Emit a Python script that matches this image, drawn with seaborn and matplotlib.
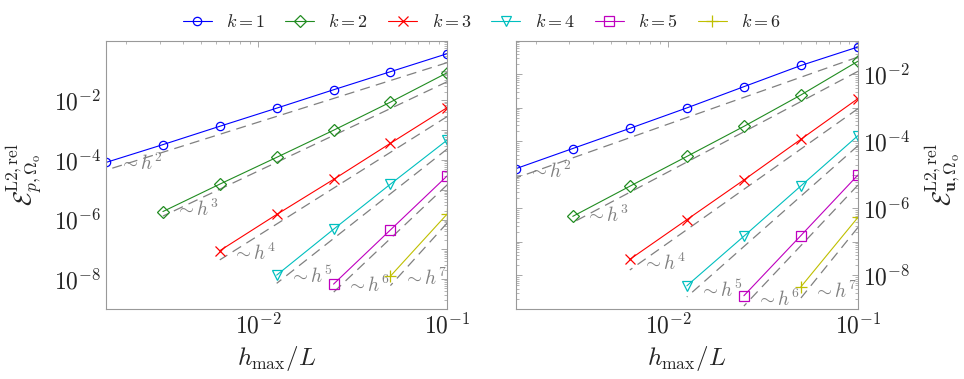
import numpy as np
import pandas as pd
import seaborn as sns
import matplotlib
matplotlib.use('Agg')
from matplotlib import pyplot as plt
from matplotlib.ticker import LogLocator, FuncFormatter, NullFormatter

# mesh sizes h_max/L
h = [0.1, 0.05, 0.025, 0.0125, 0.00625, 0.003125, 0.0015625]
degrees = [1, 2, 3, 4, 5, 6]

# pressure error (coarse -> fine)
p_k1 = [0.374, 0.0925, 0.0229, 0.00552, 0.00136, 3.29e-4, 8.3e-5]
p_k2 = [0.0857, 8.8e-3, 1.0e-3, 1.23e-4, 1.55e-5, 1.86e-6]
p_k3 = [5.8e-3, 3.65e-4, 2.23e-5, 1.48e-6, 9.0e-8]
p_k4 = [4.72e-4, 1.55e-5, 4.72e-7, 1.36e-8]
p_k5 = [2.96e-5, 4.49e-7, 6.78e-9]
p_k6 = [1.55e-6, 1.26e-8]

# velocity error, right panel
u_k1 = [0.0661, 0.0185, 4.31e-3, 1.0e-3, 2.45e-4, 6.14e-5, 1.53e-5]
u_k2 = [0.0248, 2.44e-3, 2.81e-4, 3.56e-5, 4.59e-6, 5.79e-7]
u_k3 = [1.90e-3, 1.16e-4, 7.06e-6, 4.61e-7, 3.01e-8]
u_k4 = [1.49e-4, 4.70e-6, 1.48e-7, 4.89e-9]
u_k5 = [9.95e-6, 1.55e-7, 2.47e-9]
u_k6 = [5.41e-7, 4.56e-9]

colors = ['#0000ff', '#218c21', '#ff0000', '#00bfbf', '#bf00bf', '#bfbf00']
markers = ['o', 'D', 'x', 'v', 's', '+']
msizes = [6, 6, 7, 6.5, 6.5, 8]
ref_scale = 0.5   # reference lines sit a factor below the coarsest point


def to_frame(series):
    rows = []
    for k, err in zip(degrees, series):
        for hh, e in zip(h, err):
            rows.append({'h': hh, 'err': e, 'k': k})
    return pd.DataFrame(rows)


def decade(v):
    return int(round(np.log10(v)))


def draw(ax, df, ylim, ylab, side='left'):
    for k, c, m, ms in zip(degrees, colors, markers, msizes):
        sub = df[df['k'] == k]
        sns.lineplot(data=sub, x='h', y='err', ax=ax, color=c, marker=m,
                     markersize=ms, markerfacecolor='none', markeredgecolor=c,
                     markeredgewidth=0.9, linewidth=0.8, label=f'$k = {k}$',
                     legend=False)

        # reference slope h^(k+1)
        hs = sub['h'].to_numpy()
        ref = ref_scale * sub['err'].iloc[0] * (hs / hs[0]) ** (k + 1)
        ax.plot(hs, ref, color='#808080', lw=0.9, dashes=(8, 5), zorder=1)
        ax.annotate(rf'$\sim h^{k + 1}$', xy=(hs[-1], ref[-1]),
                    xytext=(9, 5), textcoords='offset points',
                    ha='left', va='center', color='#808080', fontsize=14)

    ax.set_xscale('log')
    ax.set_yscale('log')
    ax.set_xlim(h[-1], h[0])
    ax.set_ylim(*ylim)

    ax.xaxis.set_major_locator(LogLocator(base=10, numticks=10))
    ax.yaxis.set_major_locator(LogLocator(base=10, numticks=20))
    ax.xaxis.set_minor_locator(LogLocator(base=10, subs=np.arange(2, 10), numticks=20))
    ax.yaxis.set_minor_locator(LogLocator(base=10, subs=np.arange(2, 10), numticks=20))
    ax.xaxis.set_major_formatter(FuncFormatter(lambda v, p: rf'$10^{{{decade(v)}}}$'))
    ax.yaxis.set_major_formatter(FuncFormatter(
        lambda v, p: rf'$10^{{{decade(v)}}}$' if decade(v) % 2 == 0 and decade(v) < 0 else ''))
    ax.xaxis.set_minor_formatter(NullFormatter())
    ax.yaxis.set_minor_formatter(NullFormatter())

    ax.tick_params(which='both', direction='in', top=True, right=True,
                   color='#999999', labelsize=17)
    ax.tick_params(which='major', length=4, width=0.6)
    ax.tick_params(which='minor', length=2, width=0.5)
    if side == 'right':
        ax.yaxis.tick_right()
        ax.tick_params(which='both', left=True, labelleft=False, labelright=True)
        ax.yaxis.set_label_position('right')
    for s in ax.spines.values():
        s.set_color('#999999')
        s.set_linewidth(0.8)

    ax.set_xlabel(r'$h_\mathrm{max}/L$', fontsize=18, labelpad=4)
    ax.set_ylabel(ylab, fontsize=18, labelpad=6 if side == 'left' else 10)


sns.set_style('white')
plt.rcParams['font.family'] = ['DejaVu Serif']
plt.rcParams['mathtext.fontset'] = 'cm'

fig = plt.figure(figsize=(9.64, 3.79), dpi=100)
ax1 = fig.add_axes([0.110, 0.185, 0.354, 0.707])
ax2 = fig.add_axes([0.535, 0.185, 0.355, 0.707])

draw(ax1, to_frame([p_k1, p_k2, p_k3, p_k4, p_k5, p_k6]), (1e-9, 1.0),
     r'$\mathcal{E}^{\mathrm{L2,rel}}_{p,\Omega_\mathrm{o}}$')
draw(ax2, to_frame([u_k1, u_k2, u_k3, u_k4, u_k5, u_k6]), (1e-9, 1e-1),
     r'$\mathcal{E}^{\mathrm{L2,rel}}_{\mathbf{u},\Omega_\mathrm{o}}$', side='right')

handles, labels = ax1.get_legend_handles_labels()
fig.legend(handles, labels, loc='center', bbox_to_anchor=(0.5, 0.942), ncol=6,
           frameon=False, fontsize=13, handlelength=1.6, handletextpad=0.8,
           columnspacing=1.1)

fig.savefig('out.png', dpi=100)
